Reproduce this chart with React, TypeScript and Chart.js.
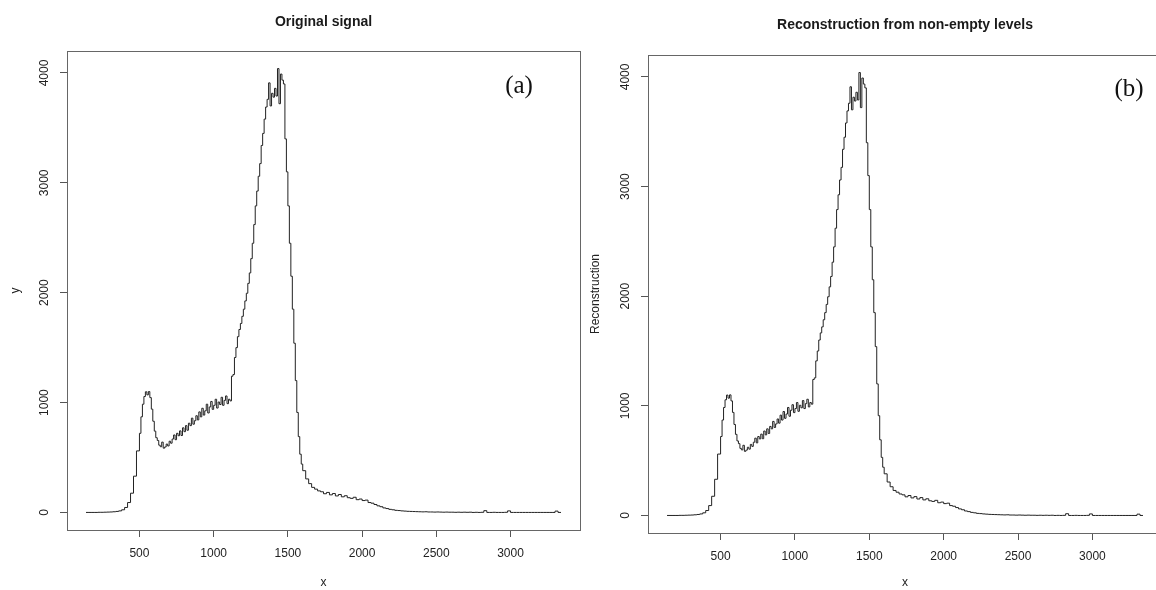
import React, { useEffect, useRef } from "react";
import { Chart, registerables } from "chart.js";

Chart.register(...registerables);

// Channel counts, three bands of bins (start channel, bin width, counts)
const lowBandStart = 140;
const lowBandStep = 20;
const lowBandY = [0, 0, 0, 0, 0, 1, 1, 2, 3, 4, 6, 9, 14, 24, 45, 90, 175, 330];

const peakBandStart = 500;
const peakBandStep = 10;
const peakBandY = [
  560, 720, 870, 985, 1055, 1098, 1070, 1100, 1045, 940,
  830, 740, 680, 655, 612, 598, 640, 585, 596, 622,
  605, 648, 630, 668, 705, 662, 720, 698, 742, 700,
  770, 735, 790, 748, 812, 790, 858, 803, 835, 880,
  842, 915, 870, 948, 886, 925, 985, 905, 960, 1010,
  938, 975, 1030, 950, 1005, 982, 1048, 975, 1020, 1060,
  990, 1030, 1015, 1240, 1255, 1410, 1500, 1600, 1665, 1720,
  1785, 1850, 1925, 1995, 2085, 2180, 2310, 2450, 2620, 2790,
  2925, 3060, 3175, 3340, 3450, 3580, 3690, 3760, 3910, 3700,
  3815, 3780, 3860, 3790, 4040, 3720, 3990, 3935, 3900, 3400,
  3100, 2790, 2450, 2150, 1850, 1540, 1200, 910, 690, 530,
  440,
];

const tailBandStart = 1620;
const tailBandStep = 20;
const tailBandY = [
  380, 305, 262, 228, 212, 196, 188, 170, 182, 160,
  172, 150, 163, 142, 152, 134, 128, 138, 116, 122,
  108, 112, 90, 84, 72, 60, 52, 41, 35, 28,
  24, 19, 17, 14, 12, 10, 9, 8, 7, 6,
  5, 6, 4, 4, 3, 4, 3, 2, 3, 2,
  2, 1, 2, 1, 2, 1, 2, 0, 1, 0,
  1, 16, 0, 0, 1, 0, 0, 0, 1, 14,
  0, 0, 0, 0, 0, 0, 0, 0, 0, 0,
  0, 0, 0, 0, 0, 12, 0,
];

const xTicks = [500, 1000, 1500, 2000, 2500, 3000];
const yTicks = [0, 1000, 2000, 3000, 4000];

const X_MIN = 12;
const X_MAX = 3468;
const Y_MIN = -160;
const Y_MAX = 4200;

type Pt = { x: number; y: number };

function band(start: number, step: number, ys: number[]): Pt[] {
  return ys.map((y, i) => ({ x: start + i * step, y }));
}

const signal: Pt[] = [
  ...band(lowBandStart, lowBandStep, lowBandY),
  ...band(peakBandStart, peakBandStep, peakBandY),
  ...band(tailBandStart, tailBandStep, tailBandY),
];

// Reconstruction from the non-empty levels is exact, so it carries the same counts
const reconstruction: Pt[] = signal.map((p) => ({ x: p.x, y: p.y }));

const SANS = "'Liberation Sans', Arial, Helvetica, sans-serif";
const SERIF = "'Liberation Serif', 'DejaVu Serif', serif";

type PanelProps = {
  title: string;
  yLabel: string;
  tag: string;
  tagX: number;
  tagY: number;
  points: Pt[];
  left: number;
  width: number;
  height: number;
  area: { left: number; top: number; right: number; bottom: number };
  titleCenterY: number;
  yTitlePad: number;
  yTickPad: number;
  xTickPad: number;
};

function Panel(p: PanelProps) {
  const ref = useRef<HTMLCanvasElement | null>(null);

  useEffect(() => {
    const canvas = ref.current;
    if (!canvas) return;

    const frame = {
      id: "frame",
      afterDraw(chart: any) {
        const { ctx, chartArea } = chart;
        ctx.save();
        ctx.strokeStyle = "#666";
        ctx.lineWidth = 1;
        ctx.strokeRect(
          Math.round(chartArea.left) + 0.5,
          Math.round(chartArea.top) + 0.5,
          Math.round(chartArea.right - chartArea.left),
          Math.round(chartArea.bottom - chartArea.top)
        );
        ctx.fillStyle = "#111";
        ctx.font = `25px ${SERIF}`;
        ctx.textAlign = "center";
        ctx.textBaseline = "middle";
        ctx.fillText(p.tag, p.tagX, p.tagY);
        ctx.restore();
      },
    };

    const tickFont = { family: SANS, size: 12 };
    const lineTitleH = 14 * 1.2;

    const chart = new Chart(canvas, {
      type: "line",
      data: {
        datasets: [
          {
            data: p.points,
            borderColor: "#222",
            borderWidth: 1,
            pointRadius: 0,
            stepped: "after",
            fill: false,
          },
        ],
      },
      options: {
        animation: false,
        responsive: false,
        devicePixelRatio: 1,
        parsing: true,
        layout: {
          padding: { left: 0, top: 0, right: p.width - p.area.right, bottom: 0 },
        },
        plugins: {
          legend: { display: false },
          tooltip: { enabled: false },
          title: {
            display: true,
            text: p.title,
            fullSize: false,
            color: "#1a1a1a",
            font: { family: SANS, size: 14, weight: "bold" },
            padding: {
              top: p.titleCenterY - lineTitleH / 2,
              bottom: p.area.top - (p.titleCenterY + lineTitleH / 2),
            },
          },
        },
        scales: {
          x: {
            type: "linear",
            min: X_MIN,
            max: X_MAX,
            afterBuildTicks: (s: any) => {
              s.ticks = xTicks.map((v) => ({ value: v }));
            },
            afterFit: (s: any) => {
              s.height = p.height - p.area.bottom;
            },
            grid: { drawOnChartArea: false, drawTicks: true, tickLength: 7, color: "#555" },
            border: { display: false },
            ticks: {
              font: tickFont,
              color: "#222",
              padding: p.xTickPad,
              maxRotation: 0,
              autoSkip: false,
              callback: (v: any) => String(v),
            },
            title: {
              display: true,
              text: "x",
              color: "#222",
              font: tickFont,
              padding: { top: 0, bottom: 0 },
            },
          },
          y: {
            type: "linear",
            min: Y_MIN,
            max: Y_MAX,
            afterBuildTicks: (s: any) => {
              s.ticks = yTicks.map((v) => ({ value: v }));
            },
            afterFit: (s: any) => {
              s.width = p.area.left;
            },
            grid: { drawOnChartArea: false, drawTicks: true, tickLength: 7, color: "#555" },
            border: { display: false },
            ticks: {
              font: tickFont,
              color: "#222",
              padding: p.yTickPad,
              minRotation: 90,
              maxRotation: 90,
              crossAlign: "center",
              autoSkip: false,
              callback: (v: any) => String(v),
            },
            title: {
              display: true,
              text: p.yLabel,
              color: "#222",
              font: tickFont,
              padding: { top: p.yTitlePad, bottom: 0 },
            },
          },
        },
      },
      plugins: [frame],
    } as any);

    return () => chart.destroy();
  }, []);

  return (
    <div
      style={{
        position: "absolute",
        left: p.left,
        top: 0,
        width: p.width,
        height: p.height,
      }}
    >
      <canvas ref={ref} width={p.width} height={p.height} style={{ display: "block" }} />
    </div>
  );
}

export default function App() {
  return (
    <div
      style={{
        position: "fixed",
        left: 0,
        top: 0,
        width: 1156,
        height: 590,
        overflow: "hidden",
        background: "#fff",
      }}
    >
      <Panel
        title="Original signal"
        yLabel="y"
        tag="(a)"
        tagX={519}
        tagY={86}
        points={signal}
        left={0}
        width={583}
        height={590}
        area={{ left: 67, top: 51, right: 580, bottom: 530 }}
        titleCenterY={22}
        yTitlePad={8}
        yTickPad={2}
        xTickPad={9}
      />
      <Panel
        title="Reconstruction from non-empty levels"
        yLabel="Reconstruction"
        tag="(b)"
        tagX={546}
        tagY={89}
        points={reconstruction}
        left={583}
        width={580}
        height={590}
        area={{ left: 65, top: 55, right: 579, bottom: 533 }}
        titleCenterY={25}
        yTitlePad={5}
        yTickPad={2}
        xTickPad={9}
      />
    </div>
  );
}
